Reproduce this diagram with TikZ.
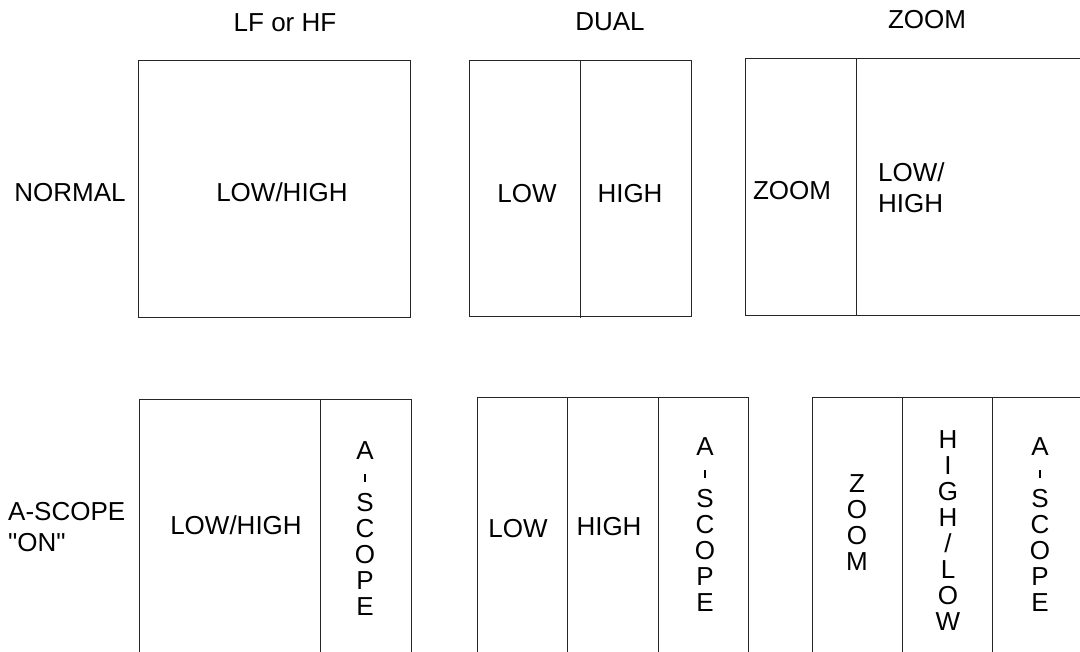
\documentclass[tikz,border=0pt]{standalone}
\usepackage{fontspec}
\setmainfont{Liberation Sans}[Ligatures=TeXOff]
\newcommand{\myhyph}{\raisebox{4pt}{\rule{1.3pt}{8pt}}}
\begin{document}
\begin{tikzpicture}[x=1pt,y=-1pt,
  frame/.style={draw=black!85,line width=0.9pt},
  lbl/.style={font=\fontsize{26}{31}\selectfont,inner sep=0pt,text depth=0pt},
  lbltwo/.style={font=\fontsize{26}{31}\selectfont,inner sep=0pt,align=left},
  vstack/.style={font=\fontsize{26}{26}\selectfont,inner sep=0pt,align=center}]
\useasboundingbox (0,0) rectangle (1080,652);
\clip (0,0) rectangle (1080,652);
\fill[white] (0,0) rectangle (1080,652);
% column headers
\node[lbl] (hlf) at (285,23) {LF or HF};
\node[lbl] (hdual) at (610,22) {DUAL};
\node[lbl] (hzoom) at (927,19) {ZOOM};
% row labels
\node[lbl] (rnormal) at (70,192) {NORMAL};
\node[lbltwo,anchor=west] (rascope) at (8,527.5) {A-SCOPE\\"ON"};
% top row boxes
\draw[frame] (138,60) rectangle (410,317);
\node[lbl] (t1) at (282,192) {LOW/HIGH};
\draw[frame] (469,60) rectangle (691,316);
\draw[frame] (580,60) -- (580,318);
\node[lbl] (t2a) at (527,193) {LOW};
\node[lbl] (t2b) at (630,193) {HIGH};
\draw[frame] (1090,58) -- (745,58) -- (745,315) -- (1090,315);
\draw[frame] (856,58) -- (856,315);
\node[lbl] (t3a) at (792,190) {ZOOM};
\node[lbltwo,anchor=west] (t3b) at (878,188) {LOW/\\HIGH};
% bottom row boxes
\draw[frame] (139,660) -- (139,399) -- (411,399) -- (411,660);
\draw[frame] (320,399) -- (320,660);
\node[lbl] (b1a) at (236,525) {LOW/HIGH};
\node[vstack] (b1b) at (365,529) {A\\\myhyph\\S\\C\\O\\P\\E};
\draw[frame] (477,660) -- (477,397) -- (748,397) -- (748,660);
\draw[frame] (567,397) -- (567,660);
\draw[frame] (658,397) -- (658,660);
\node[lbl] (b2a) at (518,528) {LOW};
\node[lbl] (b2b) at (609,526) {HIGH};
\node[vstack] (b2c) at (705,525) {A\\\myhyph\\S\\C\\O\\P\\E};
\draw[frame] (812,660) -- (812,397) -- (1090,397);
\draw[frame] (902,397) -- (902,660);
\draw[frame] (992,397) -- (992,660);
\node[vstack] (b3a) at (857,523) {Z\\O\\O\\M};
\node[vstack] (b3b) at (948,531) {H\\I\\G\\H\\/\\L\\O\\W};
\node[vstack] (b3c) at (1040,525) {A\\\myhyph\\S\\C\\O\\P\\E};
\end{tikzpicture}
\end{document}
